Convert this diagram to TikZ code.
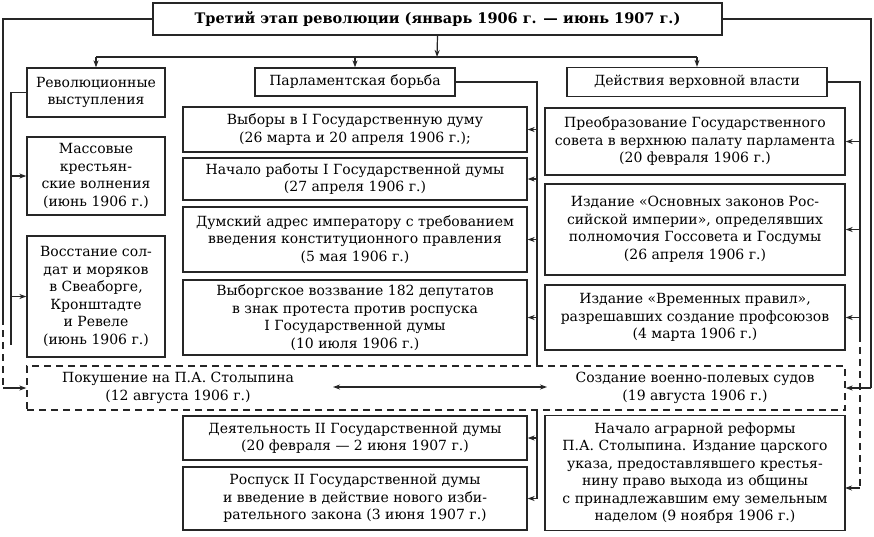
\documentclass[tikz,border=0pt]{standalone}
\usepackage{fontspec}
\setmainfont{DejaVu Serif}
\usetikzlibrary{arrows.meta}
\begin{document}
\begin{tikzpicture}[x=1pt,y=-1pt,
  box/.style={draw=black!85, line width=1.3pt, align=center, inner sep=0pt, font=\fontsize{14}{17.5}\selectfont},
  txt/.style={align=center, inner sep=0pt, font=\fontsize{14}{17.5}\selectfont},
  conn/.style={draw=black!85, line width=1.2pt},
  arr/.style={conn, -{Stealth[length=7pt,width=5pt]}},
  darr/.style={conn, {Stealth[length=7pt,width=5pt]}-{Stealth[length=7pt,width=5pt]}},
  dsh/.style={conn, dash pattern=on 7pt off 5pt},
]
\useasboundingbox[fill=white] (0,0) rectangle (874,536);

% title and headers
\node[box, font=\bfseries\fontsize{14.5}{16}\selectfont, minimum width=569, minimum height=32] (title) at (437.5,19) {Третий этап революции (январь 1906 г. — июнь 1907 г.)};
\node[box, minimum width=138, minimum height=49] (rev) at (96,92.5) {Революционные\\выступления};
\node[box, minimum width=200, minimum height=28] (parl) at (355,82) {Парламентская борьба};
\node[box, minimum width=260, minimum height=29] (dej) at (697,82) {Действия верховной власти};

% left column
\node[box, minimum width=138, minimum height=78] (l1) at (96,176) {Массовые\\крестьян-\\ские волнения\\(июнь 1906 г.)};
\node[box, minimum width=138, minimum height=121] (l2) at (96,296.5) {Восстание сол-\\дат и моряков\\в Свеаборге,\\Кронштадте\\и Ревеле\\(июнь 1906 г.)};

% middle column
\node[box, minimum width=344, minimum height=45] (m1) at (355,129.5) {Выборы в I Государственную думу\\(26 марта и 20 апреля 1906 г.);};
\node[box, minimum width=344, minimum height=42] (m2) at (355,179) {Начало работы I Государственной думы\\(27 апреля 1906 г.)};
\node[box, minimum width=344, minimum height=65] (m3) at (355,239.5) {Думский адрес императору с требованием\\введения конституционного правления\\(5 мая 1906 г.)};
\node[box, minimum width=344, minimum height=75] (m4) at (355,317.5) {Выборгское воззвание 182 депутатов\\в знак протеста против роспуска\\I Государственной думы\\(10 июля 1906 г.)};
\node[box, minimum width=344, minimum height=44] (m5) at (355,438) {Деятельность II Государственной думы\\(20 февраля — 2 июня 1907 г.)};
\node[box, minimum width=344, minimum height=63] (m6) at (355,498.5) {Роспуск II Государственной думы\\и введение в действие нового изби-\\рательного закона (3 июня 1907 г.)};

% right column
\node[box, minimum width=300, minimum height=67] (r1) at (695,141.5) {Преобразование Государственного\\совета в верхнюю палату парламента\\(20 февраля 1906 г.)};
\node[box, minimum width=300, minimum height=91] (r2) at (695,229.5) {Издание «Основных законов Рос-\\сийской империи», определявших\\полномочия Госсовета и Госдумы\\(26 апреля 1906 г.)};
\node[box, minimum width=300, minimum height=65] (r3) at (695,317.5) {Издание «Временных правил»,\\разрешавших создание профсоюзов\\(4 марта 1906 г.)};
\node[box, minimum width=300, minimum height=115] (r4) at (695,473) {Начало аграрной реформы\\П.А. Столыпина. Издание царского\\указа, предоставлявшего крестья-\\нину право выхода из общины\\с принадлежавшим ему земельным\\наделом (9 ноября 1906 г.)};

% dashed box
\node[box, dash pattern=on 7pt off 5pt, minimum width=818, minimum height=44] (dbox) at (436,388) {};
\node[txt] (d1) at (178,388) {Покушение на П.А. Столыпина\\(12 августа 1906 г.)};
\node[txt] (d2) at (695,388) {Создание военно-полевых судов\\(19 августа 1906 г.)};
\coordinate (da1) at (333,387);
\coordinate (da2) at (547,387);
\draw[darr] (da1) -- (da2);

% title to headers
\coordinate (bus) at (437,57);
\draw[arr] (title.south) -- (bus);
\draw[conn] (rev.north |- bus) -- (dej.north |- bus);
\draw[arr] (rev.north |- bus) -- (rev.north);
\draw[arr] (parl.north |- bus) -- (parl.north);
\draw[arr] (dej.north |- bus) -- (dej.north);

% outer lines from title to dashed box
\coordinate (LOa) at (3,318);
\coordinate (LO) at (3,388);
\draw[conn] (title.west) -| (LOa);
\draw[dsh] (LOa) -- (LO);
\draw[arr] (LO) -- (dbox.west);
\coordinate (RO) at (871,388);
\draw[conn] (title.east) -| (RO);
\draw[arr] (RO) -- (dbox.east);

% left spine
\coordinate (LS) at (11,345);
\draw[conn] (rev.west) -| (LS);
\draw[arr] (l1.west -| LS) -- (l1.west);
\draw[arr] (l2.west -| LS) -- (l2.west);

% middle spine
\coordinate (MS) at (537,0);
\draw[conn] (parl.east) -| (dbox.north -| MS);
\draw[arr] (m1.east -| MS) -- (m1.east);
\draw[arr] (m2.east -| MS) -- (m2.east);
\draw[arr] (m3.east -| MS) -- (m3.east);
\draw[arr] (m4.east -| MS) -- (m4.east);
\draw[conn] (dbox.south -| MS) -- (m6.east -| MS);
\draw[arr] (m5.east -| MS) -- (m5.east);
\draw[arr] (m6.east -| MS) -- (m6.east);

% right spine
\coordinate (RS) at (860,0);
\coordinate (RSa) at (860,335);
\coordinate (RSb) at (860,488);
\coordinate (r4in) at (845,488);
\draw[conn] (dej.east) -| (RSa);
\draw[arr] (r1.east -| RS) -- (r1.east);
\draw[arr] (r2.east -| RS) -- (r2.east);
\draw[arr] (r3.east -| RS) -- (r3.east);
\draw[dsh] (RSa) -- (RSb);
\draw[arr] (RSb) -- (r4in);
\end{tikzpicture}
\end{document}
